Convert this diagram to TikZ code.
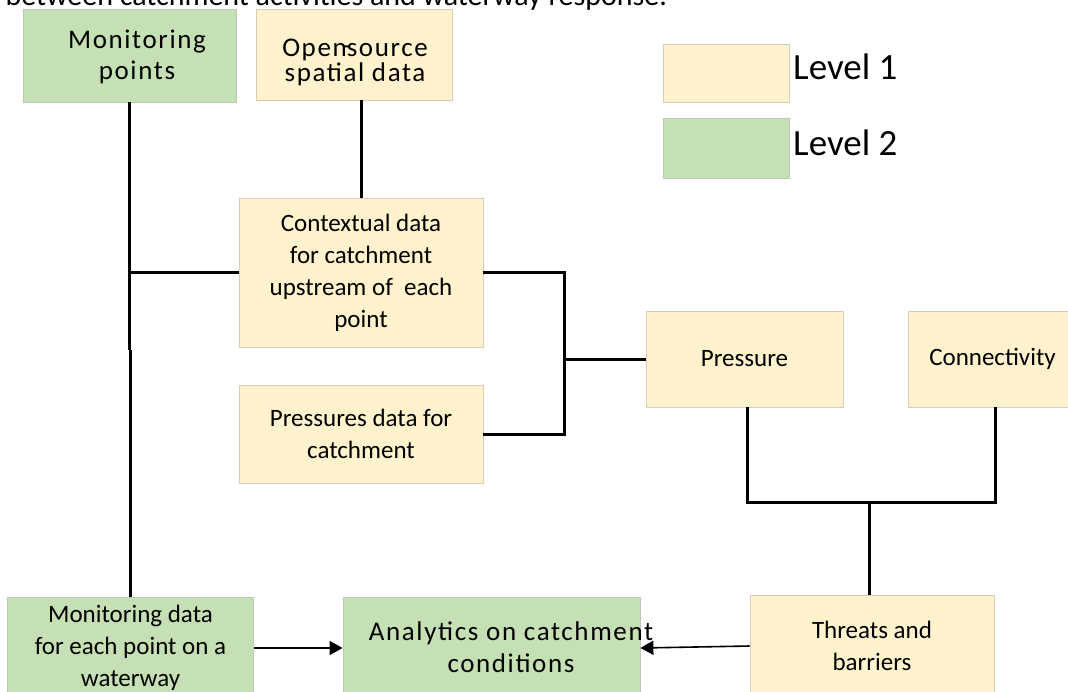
\documentclass[tikz,border=0pt]{standalone}
\usepackage{fontspec}
\setmainfont{Carlito}
\newfontfamily\spacedfont{Carlito}[LetterSpace=6]
\usetikzlibrary{arrows.meta}
\definecolor{lvlone}{HTML}{FFF2CC}
\definecolor{lvltwo}{HTML}{C5E0B4}
\definecolor{ybord}{HTML}{D6CFB8}
\definecolor{gbord}{HTML}{BCC8B4}
\begin{document}
\begin{tikzpicture}[x=1pt,y=-1pt,
  ybox/.style={draw=ybord, fill=lvlone, line width=0.8pt, inner sep=0pt, align=center, font=\fontsize{25}{32}\selectfont},
  gbox/.style={draw=gbord, fill=lvltwo, line width=0.8pt, inner sep=0pt, align=center, font=\fontsize{25}{32}\selectfont},
  spaced/.style={inner sep=0pt, align=center, font=\spacedfont\fontsize{27}{31}\selectfont},
  legtext/.style={inner sep=0pt, font=\fontsize{37}{44}\selectfont},
  tree/.style={line width=3pt, black, line join=miter},
  arr/.style={line width=1.6pt, black, -{Triangle[length=13pt,width=14pt]}}]
\useasboundingbox (0,0) rectangle (1068,691);

% title (cut off at top)
\node[inner sep=0pt, anchor=base east, font=\fontsize{30}{36}\selectfont] (title) at (667,5) {between catchment activities and waterway response.};

% top boxes
\node[gbox, minimum width=213pt, minimum height=93pt] (mp) at (129.5,55.5) {};
\node[spaced] (mptext) at (137,57) {Monitoring\\points};
\node[ybox, minimum width=196pt, minimum height=91pt] (os) at (354,54.5) {};
\node[spaced, font=\spacedfont\fontsize{27}{25}\selectfont] (ostext) at (355,62) {Open\rlap{\kern-4pt\raisebox{2pt}{-}}source\\spatial data};

% legend
\node[ybox, minimum width=126pt, minimum height=58pt] (l1) at (726,73) {};
\node[legtext, anchor=base west] (l1t) at (793,79) {Level 1};
\node[gbox, minimum width=126pt, minimum height=60pt] (l2) at (726,148) {};
\node[legtext, anchor=base west] (l2t) at (793,155) {Level 2};

% middle boxes
\node[ybox, minimum width=244pt, minimum height=149pt] (ctx) at (361,272.5) {Contextual data\\for catchment\\upstream of\ \ each\\point};
\node[ybox, minimum width=244pt, minimum height=98pt] (prd) at (361,434) {Pressures data for\\catchment};
\node[ybox, minimum width=197pt, minimum height=96pt] (prs) at (744.5,359) {Pressure};
\node[ybox, minimum width=169pt, minimum height=96pt] (con) at (992.5,359) {Connectivity};

% bottom boxes
\node[gbox, minimum width=246pt, minimum height=102pt] (md) at (130.5,648) {Monitoring data\\for each point on a\\waterway};
\node[gbox, minimum width=297pt, minimum height=102pt] (an) at (491.5,648) {};
\node[spaced, font=\spacedfont\fontsize{27}{32}\selectfont] (antext) at (511,647) {Analytics on catchment\\conditions};
\node[ybox, minimum width=244pt, minimum height=102pt] (tb) at (872,646) {Threats and\\barriers};

% connectors
\coordinate (jl) at (130,350);
\coordinate (jb) at (564,359);
\coordinate (jt) at (869,502);
\draw[tree] (mp.south) -- (mp.south |- jl);
\draw[tree] (md.north |- jl) -- (md.north);
\draw[tree] (mp.south |- ctx.west) -- (ctx.west);
\draw[tree] (ctx.north |- os.south) -- (ctx.north);
\draw[tree] (ctx.east) -- (ctx.east -| jb) -- (prd.east -| jb) -- (prd.east);
\draw[tree] (jb) -- (prs.west);
\draw[tree] ([xshift=2.5pt]prs.south) -- ([xshift=2.5pt]prs.south |- jt) -- ([xshift=2.5pt]con.south |- jt) -- ([xshift=2.5pt]con.south);
\draw[tree] (jt) -- (jt |- tb.north);
\draw[arr] (md.east) -- (an.west);
\draw[arr] (tb.west) -- (an.east);
\end{tikzpicture}
\end{document}
